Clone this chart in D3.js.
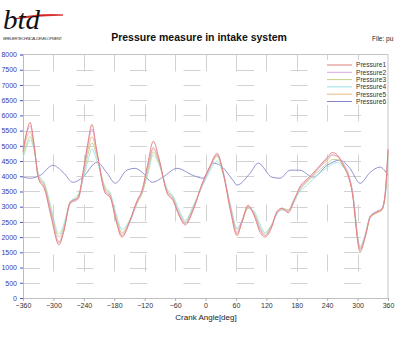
<!DOCTYPE html>
<html>
<head>
<meta charset="utf-8">
<script src="https://cdn.jsdelivr.net/npm/d3@7"></script>
<style>
  html, body { margin: 0; padding: 0; background: #ffffff; }
  svg { display: block; font-family: "Liberation Sans", Arial, sans-serif; }
</style>
</head>
<body>
<svg id="chart" width="400" height="340"></svg>
<script>
// Crank angle sample points for Pressure1..5
const crankAngle = [-360, -352, -346, -338, -330, -317, -305, -289, -280, -267, -251, -240, -232, -224, -215, -198, -188, -176, -165, -150, -135, -125, -114, -103, -92, -76, -64, -52, -40, -25, -7, 8, 23, 35, 50, 62, 72, 84, 96, 108, 117, 130, 141, 151, 163, 175, 186, 200, 212, 228, 242, 250, 260, 269, 289, 305, 315, 325, 338, 348, 355, 360];

const pressure1 = [4800, 5500, 5770, 5000, 3950, 3550, 2700, 1750, 2150, 3150, 3300, 4300, 5100, 5700, 4900, 3450, 3300, 2500, 2000, 2500, 3200, 3550, 4400, 5150, 4600, 3450, 3200, 2700, 2400, 2850, 3750, 4300, 4750, 4100, 2800, 2050, 2500, 3050, 2700, 2150, 2000, 2300, 2850, 2950, 2800, 3200, 3650, 3900, 4100, 4400, 4650, 4780, 4700, 4450, 3500, 1520, 2000, 2650, 2820, 2900, 3500, 4900];
const pressure2 = [4900, 5450, 5650, 5050, 4000, 3600, 2800, 1850, 2200, 3100, 3250, 4200, 5000, 5550, 4850, 3500, 3350, 2550, 2050, 2450, 3150, 3500, 4300, 4950, 4550, 3500, 3250, 2750, 2450, 2900, 3700, 4250, 4700, 4150, 2900, 2150, 2550, 3000, 2750, 2250, 2050, 2350, 2800, 2900, 2850, 3250, 3600, 3850, 4050, 4350, 4600, 4700, 4650, 4500, 3600, 1600, 2050, 2700, 2850, 2950, 3550, 4850];
const pressure3 = [4700, 5100, 5300, 4900, 4050, 3700, 2900, 2000, 2300, 3100, 3350, 4100, 4700, 5100, 4700, 3600, 3400, 2650, 2150, 2500, 3100, 3450, 4150, 4800, 4450, 3550, 3300, 2800, 2500, 2950, 3700, 4250, 4650, 4100, 2950, 2250, 2500, 2950, 2800, 2300, 2100, 2400, 2800, 2950, 2900, 3250, 3550, 3800, 4000, 4250, 4450, 4550, 4550, 4400, 3550, 1650, 2050, 2650, 2800, 2900, 3450, 4750];
const pressure4 = [4600, 5000, 5200, 4850, 4100, 3750, 3000, 2100, 2400, 3150, 3400, 4000, 4500, 4900, 4550, 3650, 3450, 2750, 2250, 2550, 3150, 3450, 4050, 4700, 4400, 3600, 3350, 2900, 2550, 3000, 3650, 4150, 4500, 4050, 3000, 2300, 2550, 2950, 2850, 2400, 2150, 2400, 2750, 2900, 2900, 3150, 3500, 3700, 3900, 4150, 4300, 4400, 4450, 4350, 3600, 1700, 2100, 2700, 2850, 2950, 3400, 4600];
const pressure5 = [4750, 5300, 5450, 4950, 4000, 3650, 2800, 1800, 2200, 3100, 3300, 4200, 4850, 5300, 4800, 3550, 3350, 2600, 2100, 2500, 3150, 3500, 4250, 4900, 4500, 3500, 3250, 2750, 2450, 2900, 3700, 4250, 4700, 4100, 2850, 2100, 2500, 3000, 2750, 2250, 2050, 2350, 2800, 2950, 2850, 3250, 3600, 3850, 4050, 4350, 4550, 4700, 4650, 4450, 3550, 1600, 2000, 2650, 2800, 2900, 3500, 4800];

// Pressure6 has its own sample points
const crankAngle6 = [-360, -346, -326, -301, -281, -261, -242, -214, -194, -178, -155, -139, -123, -105, -84, -56, -25, -5, 15, 29, 54, 62, 88, 104, 131, 147, 167, 186, 212, 240, 265, 285, 305, 325, 344, 360];
const pressure6 = [3970, 3935, 4030, 4360, 4130, 3800, 3970, 4460, 4100, 3770, 4200, 4260, 4100, 3800, 3970, 4260, 4030, 3935, 4430, 4360, 3870, 3710, 4100, 4430, 3970, 3935, 4200, 4200, 3970, 4360, 4530, 4260, 3770, 4130, 4300, 4030];

const seriesNames = ["Pressure1", "Pressure2", "Pressure3", "Pressure4", "Pressure5", "Pressure6"];
const seriesColors = ["#e27c7c", "#dba6de", "#cacf88", "#96e4e8", "#e9bc80", "#8686cc"];

const xTicks = [-360, -300, -240, -180, -120, -60, 0, 60, 120, 180, 240, 300, 360];
const yTicks = [0, 500, 1000, 1500, 2000, 2500, 3000, 3500, 4000, 4500, 5000, 5500, 6000, 6500, 7000, 7500, 8000];

const svg = d3.select("#chart");
const plotL = 23, plotR = 388, plotT = 54.5, plotB = 298;

const x = d3.scaleLinear().domain([-360, 360]).range([plotL, plotR]);
const y = d3.scaleLinear().domain([0, 8000]).range([plotB, plotT]);

// Logo
const logo = svg.append("g");
logo.append("path")
  .attr("d", "M14,19 Q38,13 63,15 Q38,15.5 14,19 Z")
  .attr("fill", "#d42020").attr("stroke", "#d42020").attr("stroke-width", 0.8);
logo.append("text").attr("x", 3).attr("y", 28.5)
  .attr("font-family", "'Liberation Serif', 'DejaVu Serif', serif")
  .attr("font-style", "italic").attr("font-size", 27).attr("fill", "#111")
  .attr("textLength", 37).attr("lengthAdjust", "spacingAndGlyphs")
  .text("btd");
logo.append("text").attr("x", 3).attr("y", 39.5)
  .attr("font-size", 4.2).attr("fill", "#444").attr("textLength", 59)
  .text("BREUER TECHNICAL DEVELOPMENT");

// Title and file name
svg.append("text").attr("x", 199).attr("y", 41)
  .attr("text-anchor", "middle").attr("font-size", 10.5).attr("font-weight", "bold").attr("fill", "#111")
  .text("Pressure measure in intake system");
svg.append("text").attr("x", 372).attr("y", 41)
  .attr("font-size", 6.5).attr("fill", "#222")
  .text("File: pu");

// Dashed grid
const grid = svg.append("g").attr("stroke", "#d2d2d2").attr("stroke-width", 1).attr("fill", "none");
grid.selectAll("line.h").data(yTicks.filter(v => v > 0 && v < 8000)).join("line")
  .attr("class", "h")
  .attr("x1", plotL).attr("x2", plotR)
  .attr("y1", d => Math.round(y(d)) + 0.5).attr("y2", d => Math.round(y(d)) + 0.5)
  .attr("stroke-dasharray", "17,36.5");
grid.selectAll("line.v").data(xTicks.filter(v => v > -360 && v < 360)).join("line")
  .attr("class", "v")
  .attr("x1", d => Math.round(x(d)) + 0.5).attr("x2", d => Math.round(x(d)) + 0.5)
  .attr("y1", plotT).attr("y2", plotB)
  .attr("stroke-dasharray", "17,33");

// Frame
svg.append("path")
  .attr("d", `M${plotL},${plotT}H${plotR}V${plotB}`)
  .attr("fill", "none").attr("stroke", "#c4c4c4").attr("stroke-width", 1);

// Axes
const yAxis = svg.append("g").attr("transform", `translate(${plotL},0)`)
  .call(d3.axisLeft(y).tickValues(yTicks).tickSize(3).tickPadding(3).tickFormat(d3.format("d")));
yAxis.select(".domain").attr("stroke", "#b8b8d8");
yAxis.selectAll(".tick line").attr("stroke", "#5050c0");
yAxis.selectAll("text").attr("font-size", 7).attr("fill", "#3838b0")
  .attr("font-family", "'Liberation Sans', Arial, sans-serif");

const xAxis = svg.append("g").attr("transform", `translate(0,${plotB})`)
  .call(d3.axisBottom(x).tickValues(xTicks).tickSize(3).tickPadding(2).tickFormat(d3.format("d")));
xAxis.select(".domain").attr("stroke", "#c0c0c0");
xAxis.selectAll(".tick line").attr("stroke", "#b0b0b0");
xAxis.selectAll("text").attr("font-size", 7).attr("fill", "#333")
  .attr("font-family", "'Liberation Sans', Arial, sans-serif");

svg.append("text").attr("x", 206).attr("y", 320)
  .attr("text-anchor", "middle").attr("font-size", 8).attr("fill", "#222")
  .text("Crank Angle[deg]");

// Curves
const line = d3.line().x(d => x(d[0])).y(d => y(d[1])).curve(d3.curveMonotoneX);
const series = [
  crankAngle.map((a, i) => [a, pressure1[i]]),
  crankAngle.map((a, i) => [a, pressure2[i]]),
  crankAngle.map((a, i) => [a, pressure3[i]]),
  crankAngle.map((a, i) => [a, pressure4[i]]),
  crankAngle.map((a, i) => [a, pressure5[i]]),
  crankAngle6.map((a, i) => [a, pressure6[i]])
];
const drawOrder = [5, 3, 2, 4, 1, 0];
svg.append("g").selectAll("path").data(drawOrder).join("path")
  .attr("d", i => line(series[i]))
  .attr("fill", "none")
  .attr("stroke", i => seriesColors[i])
  .attr("stroke-width", 0.9);

// Legend
const legend = svg.append("g");
legend.append("rect").attr("x", 325).attr("y", 60).attr("width", 62).attr("height", 45).attr("fill", "#fff");
const rows = legend.selectAll("g").data(seriesNames).join("g")
  .attr("transform", (d, i) => `translate(0,${65 + i * 7.3})`);
rows.append("line").attr("x1", 327).attr("x2", 352).attr("y1", 0).attr("y2", 0)
  .attr("stroke", (d, i) => seriesColors[i]).attr("stroke-width", 1);
rows.append("text").attr("x", 356).attr("y", 2.3)
  .attr("font-size", 6.6).attr("fill", "#333").text(d => d);
</script>
</body>
</html>
